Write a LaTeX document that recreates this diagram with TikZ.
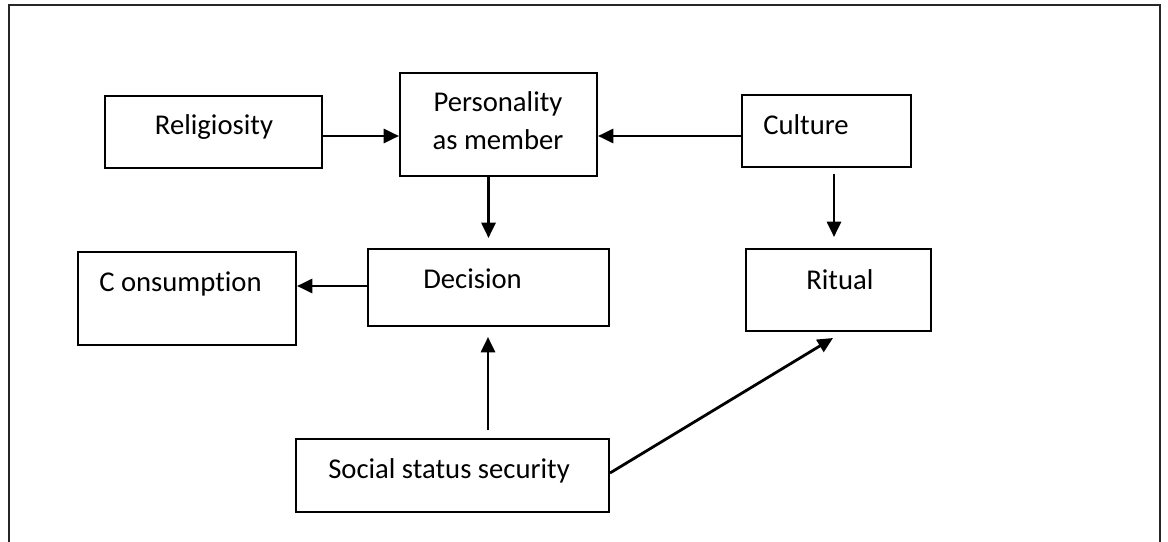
\documentclass[tikz,border=0pt]{standalone}
\usepackage{fontspec}
\setmainfont{Carlito}[Ligatures=NoCommon]
\usetikzlibrary{arrows.meta,calc}
\begin{document}
\begin{tikzpicture}[x=0.75pt,y=-0.75pt,
  box/.style={draw=black,line width=1.5pt,rectangle,inner sep=0pt},
  lbl/.style={inner sep=0pt,font=\fontsize{21.5}{28.5}\selectfont},
  arr/.style={line width=2.1pt,-{Triangle[length=11.5pt,width=10.5pt]}}]
\useasboundingbox (0,0) rectangle (1168,542);
\draw[line width=1.6pt,black!85] (9,600) -- (9,5) -- (1160,5) -- (1160,600);
% boxes
\node[box,minimum width=217*0.75pt,minimum height=72*0.75pt] (rel) at (213.5,132) {};
\node[box,minimum width=197*0.75pt,minimum height=103*0.75pt] (pers) at (498.5,124.5) {};
\node[box,minimum width=169*0.75pt,minimum height=72*0.75pt] (cult) at (826.5,131) {};
\node[box,minimum width=218*0.75pt,minimum height=93*0.75pt] (cons) at (187,298.5) {};
\node[box,minimum width=241*0.75pt,minimum height=77*0.75pt] (dec) at (488.5,287.5) {};
\node[box,minimum width=185*0.75pt,minimum height=82*0.75pt] (rit) at (838.5,290) {};
\node[box,minimum width=313*0.75pt,minimum height=73*0.75pt] (soc) at (452.5,475.5) {};
% texts
\node[lbl,anchor=base] (trel) at (214,134) {Religiosity};
\node[lbl,anchor=base] (tpers1) at (498,112) {Personality};
\node[lbl,anchor=base] (tpers2) at (498,149) {as member};
\node[lbl,anchor=base west] (tcult) at (763,134) {Culture};
\node[lbl,anchor=base west] (tcons) at (99,291) {C onsumption};
\node[lbl,anchor=base west] (tdec) at (423,288) {Decision};
\node[lbl,anchor=base west] (trit) at (806,289) {Ritual};
\node[lbl,anchor=base west] (tsoc) at (328,478) {Social status security};
% connectors
\draw[arr] ($(rel.east)+(0,4)$) -- ($(pers.west)+(0,11.5)$);
\draw[arr] ($(cult.west)+(0,5)$) -- ($(pers.east)+(0,11.5)$);
\draw[arr] (dec.north |- pers.south) -- ($(dec.north)+(0,-10)$);
\draw[arr] ($(cult.south)+(7.5,6)$) -- ($(rit.north)+(-4.5,-11)$);
\draw[arr] ($(dec.west)+(0,-1.5)$) -- ($(cons.east)+(0,-12.5)$);
\draw[arr] ($(soc.north)+(35.5,-8)$) -- ($(dec.south)+(-0.5,10)$);
\draw[arr] ($(soc.east)+(0,-2.5)$) -- ($(rit.south)+(-5.5,6)$);
\end{tikzpicture}
\end{document}
